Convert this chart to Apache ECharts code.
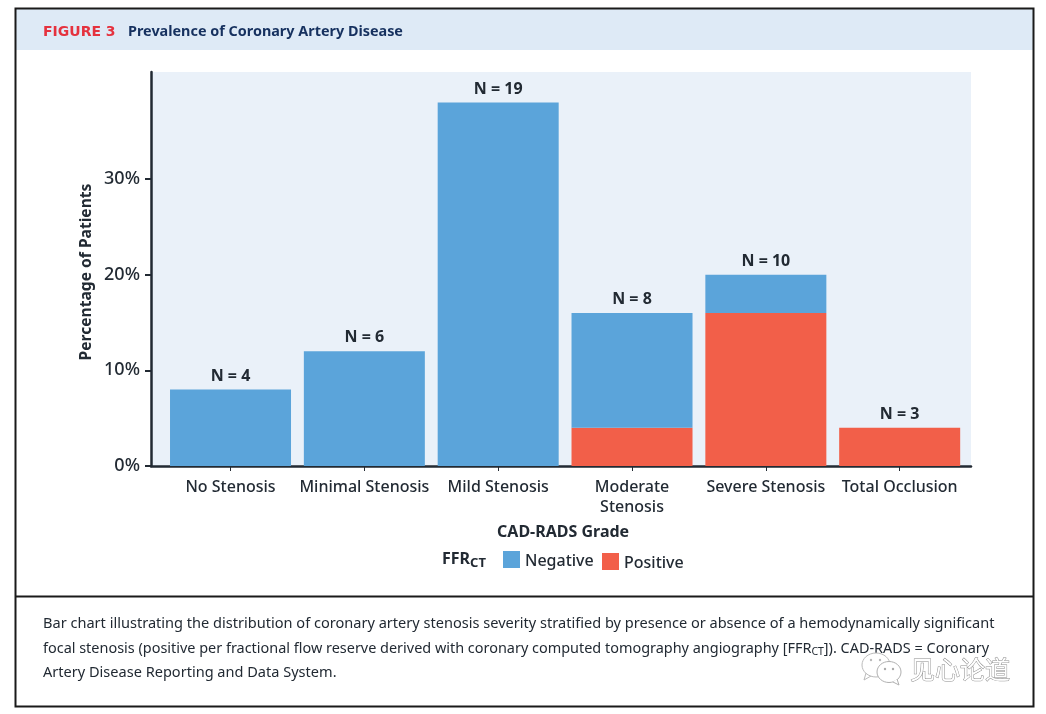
<!DOCTYPE html>
<html><head><meta charset="utf-8">
<style>html,body{margin:0;padding:0;background:#fff}#c{width:1046px;height:714px}</style>
<script src="https://cdn.jsdelivr.net/npm/echarts@6/dist/echarts.min.js"></script>
</head><body><div id="c"></div>
<script>
const categories = ['No Stenosis','Minimal Stenosis','Mild Stenosis','Moderate\nStenosis','Severe Stenosis','Total Occlusion'];
const negative = [8,12,38,12,4,0];
const positive = [0,0,0,4,16,4];
const totals = [8,12,38,16,20,4];
const counts = [4,6,19,8,10,3];
const yTicks = [0,10,20,30];
const captionLines = [
 'Bar chart illustrating the distribution of coronary artery stenosis severity stratified by presence or absence of a hemodynamically significant',
 'focal stenosis (positive per fractional flow reserve derived with coronary computed tomography angiography [FFR{s|CT}]). CAD-RADS = Coronary',
 'Artery Disease Reporting and Data System.'
];
const captionSizes = [14.57,14.45,14.55];
const FONT = '"Noto Sans", sans-serif';
const INK = '#222a33';
const legendRich = {a:{color:INK,fontSize:16,fontWeight:500,fontFamily:FONT,padding:[4,0,0,0]}};
const chart = echarts.init(document.getElementById('c'), null, {renderer:'canvas'});
chart.setOption({
  animation:false,
  backgroundColor:'#fff',
  textStyle:{fontFamily:FONT},
  grid:[
    {left:151,top:72,width:820,height:394,show:true,backgroundColor:'#eaf1f9',borderWidth:0},
    {left:163.6,top:72,width:803,height:394}
  ],
  xAxis:[
    {type:'value',gridIndex:0,min:0,max:1,axisLabel:{show:false},axisTick:{show:false},splitLine:{show:false},
     axisLine:{show:true,onZero:false,lineStyle:{color:INK,width:2.5}}},
    {type:'category',gridIndex:1,data:categories,axisLine:{show:false},
     axisTick:{show:true,alignWithLabel:true,length:5,lineStyle:{color:INK,width:1}},
     axisLabel:{color:INK,fontSize:16,fontWeight:500,lineHeight:20,margin:11,interval:0,fontFamily:FONT},
     name:'CAD-RADS Grade',nameLocation:'middle',nameGap:58,nameMoveOverlap:false,
     nameTextStyle:{color:INK,fontSize:16,fontWeight:'bold',fontFamily:FONT,padding:[0,4,0,0]}}
  ],
  yAxis:[
    {type:'value',gridIndex:0,min:0,max:41.2,interval:10,
     axisLine:{show:true,lineStyle:{color:INK,width:2.5}},
     axisTick:{show:true,length:6,customValues:yTicks,lineStyle:{color:INK,width:2}},
     axisLabel:{color:INK,fontSize:18,fontWeight:500,margin:11,customValues:yTicks,formatter:v=>v+'%'},
     splitLine:{show:false},
     name:'Percentage of Patients',nameLocation:'middle',nameGap:56,nameMoveOverlap:false,
     nameTextStyle:{color:INK,fontSize:15.6,fontWeight:'bold',padding:[0,6,0,0]}},
    {type:'value',gridIndex:1,min:0,max:41.2,show:false,splitLine:{show:false}}
  ],
  legend:[
    {data:['Negative'],left:498,top:546,itemWidth:17,itemHeight:17,itemGap:5,icon:'rect',formatter:'{a|{name}}',
     textStyle:{rich:legendRich}},
    {data:['Positive'],left:597,top:548,itemWidth:17,itemHeight:17,itemGap:5,icon:'rect',formatter:'{a|{name}}',
     textStyle:{rich:legendRich}}
  ],
  series:[
    {name:'Positive',type:'bar',xAxisIndex:1,yAxisIndex:1,stack:'a',barWidth:121,data:positive,itemStyle:{color:'#f25f49'}},
    {name:'Negative',type:'bar',xAxisIndex:1,yAxisIndex:1,stack:'a',barWidth:121,data:negative,itemStyle:{color:'#5ba4da'}},
    {name:'N',type:'scatter',xAxisIndex:1,yAxisIndex:1,data:totals,symbolSize:1,itemStyle:{color:'rgba(0,0,0,0)',opacity:1},silent:true,z:5,
     label:{show:true,position:'top',distance:5,color:INK,fontSize:16,fontWeight:'bold',fontFamily:FONT,
       formatter:p=>'N = '+counts[p.dataIndex]}}
  ],
  graphic:[
    {type:'rect',z:-1,silent:true,shape:{x:16,y:9,width:1017,height:41},style:{fill:'#deeaf6'}},
    {type:'rect',z:10,silent:true,shape:{x:15.5,y:8.5,width:1018,height:698},style:{fill:'none',stroke:'#1a1a1a',lineWidth:2}},
    {type:'line',z:10,silent:true,shape:{x1:16,y1:596.5,x2:1033,y2:596.5},style:{stroke:'#1a1a1a',lineWidth:2}},
    {type:'text',z:11,x:43,y:32,style:{text:'FIGURE 3',fill:'#e5323e',fontFamily:'DejaVu Sans',fontWeight:'bold',fontSize:14,textVerticalAlign:'middle'}},
    {type:'text',z:11,x:128,y:32,style:{text:'Prevalence of Coronary Artery Disease',fill:'#16315f',font:'bold 14.4px "Noto Sans"',textVerticalAlign:'middle'}},
    {type:'text',z:11,x:442,y:559,style:{text:'FFR{s|CT}',fill:INK,font:'bold 16px "Noto Sans"',textVerticalAlign:'middle',
      rich:{s:{font:'bold 13px "Noto Sans"',fill:INK,padding:[8,0,0,0]}}}},
    ...captionLines.map((t,i)=>({type:'text',z:11,x:43,y:[624,649,673][i],style:{text:t,fill:INK,font:captionSizes[i]+'px "Noto Sans"',textVerticalAlign:'middle',
      rich:{s:{font:'10.5px "Noto Sans"',fill:INK,padding:[6,0,0,0]}}}})),
    {type:'ellipse',z:12,silent:true,shape:{cx:876,cy:665,rx:14,ry:12},style:{fill:'rgba(255,255,255,0.6)',stroke:'#bbbbbb',lineWidth:1}},
    {type:'polyline',z:12,silent:true,shape:{points:[[866,673],[864,680],[871,676]]},style:{fill:'none',stroke:'#bbbbbb',lineWidth:1}},
    {type:'ellipse',z:12,silent:true,shape:{cx:889,cy:672,rx:12,ry:10.5},style:{fill:'#fff',stroke:'#b0b0b0',lineWidth:1}},
    {type:'polyline',z:12,silent:true,shape:{points:[[893,682],[899,685],[897,679]]},style:{fill:'#fff',stroke:'#b0b0b0',lineWidth:1}},
    {type:'circle',z:13,silent:true,shape:{cx:871,cy:660,r:1.2},style:{fill:'#bbb'}},
    {type:'circle',z:13,silent:true,shape:{cx:880,cy:660,r:1.2},style:{fill:'#bbb'}},
    {type:'circle',z:13,silent:true,shape:{cx:885,cy:669,r:1.2},style:{fill:'#aaa'}},
    {type:'circle',z:13,silent:true,shape:{cx:893,cy:669,r:1.2},style:{fill:'#aaa'}},
    {type:'text',z:13,x:910,y:669,style:{text:'见心论道',fill:'#fff',stroke:'#8c8c8c',lineWidth:1,font:'25px "Noto Sans CJK SC"',textVerticalAlign:'middle'}}
  ]
});
</script></body></html>
